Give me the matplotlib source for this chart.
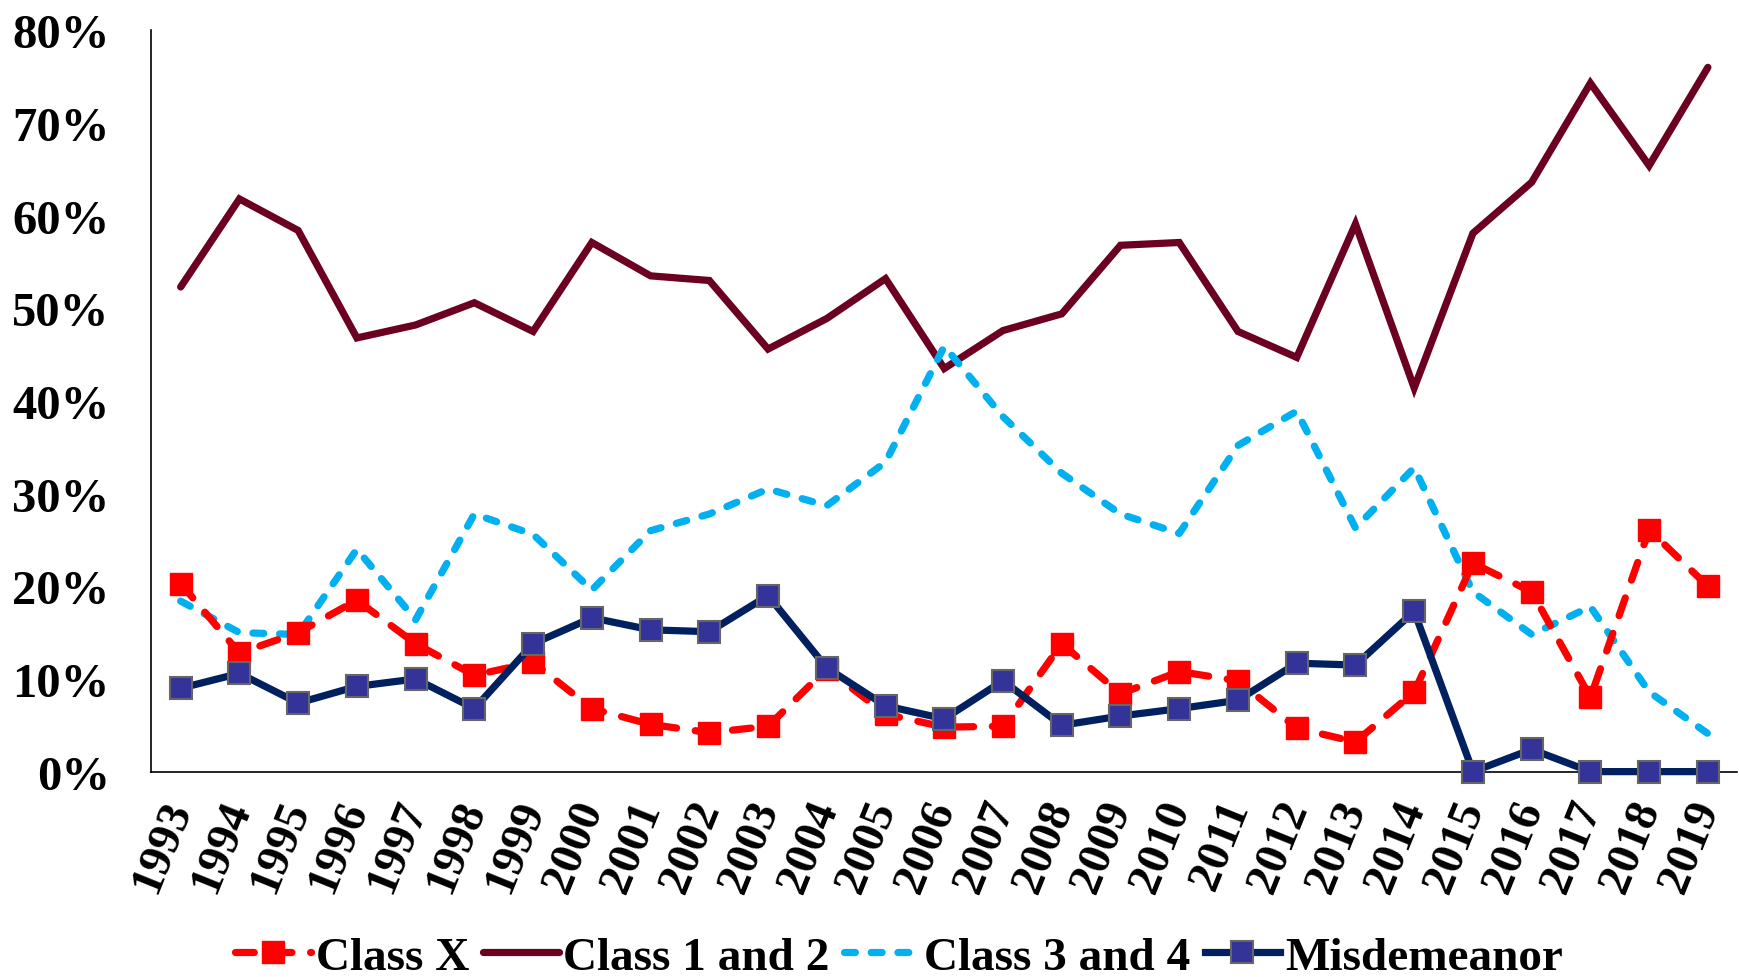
import matplotlib
matplotlib.use("Agg")
import matplotlib.pyplot as plt
from matplotlib.ticker import PercentFormatter

plt.rcParams['font.family'] = ['Liberation Serif', 'DejaVu Serif']
plt.rcParams['font.weight'] = 'bold'

# data (percent)
years = list(range(1993, 2020))
class_x = [20.3, 12.8, 15.0, 18.5, 13.8, 10.4, 11.8, 6.8, 5.1, 4.2, 4.9, 11.1, 6.2, 4.8,
           4.9, 13.8, 8.4, 10.8, 9.8, 4.7, 3.2, 8.6, 22.5, 19.4, 8.0, 26.1, 20.0]
class_1_2 = [52.3, 61.8, 58.4, 46.8, 48.2, 50.6, 47.5, 57.1, 53.5, 53.0, 45.6, 48.9, 53.2, 43.5,
             47.6, 49.4, 56.8, 57.1, 47.5, 44.7, 59.1, 41.4, 58.1, 63.6, 74.3, 65.4, 76.0]
class_3_4 = [18.4, 15.0, 14.8, 24.0, 16.4, 27.8, 25.6, 19.6, 26.0, 27.8, 30.5, 28.7, 33.4, 45.9,
             38.3, 32.2, 27.8, 25.7, 35.2, 38.9, 26.3, 32.8, 19.4, 14.8, 17.8, 8.6, 4.1]
misdemeanor = [9.0, 10.6, 7.4, 9.2, 10.0, 6.8, 13.8, 16.6, 15.3, 15.1, 19.0, 11.2, 7.1, 5.7,
               9.8, 5.0, 6.0, 6.8, 7.7, 11.7, 11.5, 17.3, 0.0, 2.4, 0.0, 0.0, 0.0]

fig = plt.figure(figsize=(17.39, 9.78), dpi=100)
ax = fig.add_axes([0.087, 0.21, 0.912, 0.758])

ax.plot(years, class_x, color='#FF0000', lw=5.2, dashes=(2.6, 2.6), dash_capstyle='round',
        marker='s', ms=16, mfc='#FF0000', mec='#FF0000', label='Class X', zorder=3)
ax.plot(years, class_1_2, color='#6B0020', lw=5.2, solid_joinstyle='miter',
        solid_capstyle='round', label='Class 1 and 2', zorder=2)
ax.plot(years, class_3_4, color='#00B0F0', lw=5.2, dashes=(1.5, 2.2),
        dash_capstyle='round', label='Class 3 and 4', zorder=2)
ax.plot(years, misdemeanor, color='#002060', lw=5.2, marker='s', ms=16,
        mfc='#333399', mec='#666666', mew=1.5, label='Misdemeanor', zorder=4, clip_on=False)

ax.set_xlim(1992.5, 2019.5)
ax.set_ylim(0, 80)
ax.set_yticks(range(0, 81, 10))
ax.yaxis.set_major_formatter(PercentFormatter(decimals=0))
ax.set_xticks(years)
ax.set_xticklabels([str(y) for y in years], rotation=68, ha='right', va='center',
                   rotation_mode='anchor')
ax.tick_params(axis='y', length=0, labelsize=35, pad=30)
ax.tick_params(axis='x', length=0, labelsize=34, pad=22)

ax.spines['top'].set_visible(False)
ax.spines['right'].set_visible(False)
ax.spines['left'].set_linewidth(1.2)
ax.spines['bottom'].set_linewidth(1.2)

fig.legend(loc='center', bbox_to_anchor=(0.517, 0.02), ncol=4, frameon=False,
           fontsize=34, handlelength=1.6, handletextpad=0.1, columnspacing=0.3,
           borderaxespad=0)

fig.savefig('out.png', dpi=100)
